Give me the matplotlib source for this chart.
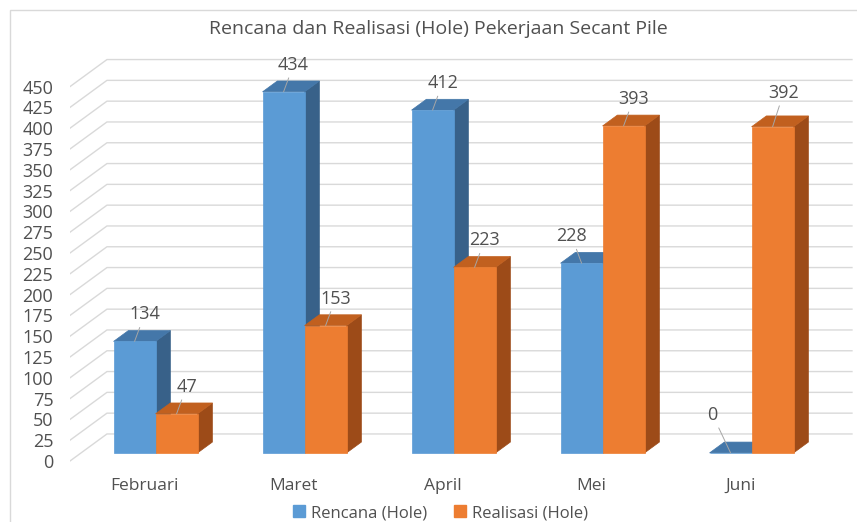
import matplotlib.pyplot as plt
from matplotlib.patches import Polygon, Rectangle
from matplotlib.lines import Line2D

plt.rcParams['font.family'] = ['Open Sans', 'DejaVu Sans']

# data
months = ['Februari', 'Maret', 'April', 'Mei', 'Juni']
rencana = [134, 434, 412, 228, 0]
realisasi = [47, 153, 223, 393, 392]
series_names = ['Rencana (Hole)', 'Realisasi (Hole)']
y_ticks = list(range(0, 451, 25))
title = 'Rencana dan Realisasi (Hole) Pekerjaan Secant Pile'

# styling for the fake 3d columns: (front, top, side)
shades = [('#5B9BD5', '#4477A9', '#386189'),
          ('#ED7D31', '#C1601F', '#9D4B18')]
text_col = '#505050'
grid_col = '#D9D9D9'

# depth of the back wall in data units, bar front/back depth as fraction
DX, DY = 0.248, 32.5
D0, D1 = 0.3, 0.7
BAR_W = 0.282

W, H = 857, 522
fig = plt.figure(figsize=(W / 100, H / 100), dpi=100)
fig.patch.set_facecolor('white')

# axes laid out in pixels: front axis starts x=70, value 0 at y=461
px_cat, px_val = 149.0, 0.832
ax = fig.add_axes([70 / W, (H - 470) / H, 787 / W, 430 / H])
ax.set_xlim(-0.5, -0.5 + 787 / px_cat)
ax.set_ylim((461 - 470) / px_val, (461 - 40) / px_val)
for s in ax.spines.values():
    s.set_visible(False)
ax.patch.set_alpha(0)

ax.set_yticks(y_ticks)
ax.set_yticklabels([str(v) for v in y_ticks], fontsize=13, color=text_col)
ax.set_xticks(range(len(months)))
ax.set_xticklabels(months, fontsize=12.5, color=text_col)
ax.tick_params(axis='y', length=0, pad=12)
ax.tick_params(axis='x', length=0, pad=6)

# gridlines on the back wall plus the little diagonal to the front
x_back_end = len(months) - 0.5 + DX
for v in y_ticks:
    ax.plot([-0.5, -0.5 + DX, x_back_end], [v, v + DY, v + DY],
            color=grid_col, lw=1, zorder=0)

# label offsets (pixels) from the front-top centre of each column
label_off = {(0, 3): (-10, 27), (0, 4): (-18, 38), (1, 4): (11, 34)}

z = 2
for i in range(len(months)):
    for s, vals in enumerate([rencana, realisasi]):
        v = vals[i]
        front, top, side = shades[s]
        x0 = i - BAR_W + s * BAR_W
        xr = x0 + BAR_W
        ax.add_patch(Polygon([(xr + D0 * DX, D0 * DY), (xr + D1 * DX, D1 * DY),
                              (xr + D1 * DX, v + D1 * DY), (xr + D0 * DX, v + D0 * DY)],
                             closed=True, facecolor=side, edgecolor=side, lw=0.5, zorder=z))
        ax.add_patch(Polygon([(x0 + D0 * DX, v + D0 * DY), (xr + D0 * DX, v + D0 * DY),
                              (xr + D1 * DX, v + D1 * DY), (x0 + D1 * DX, v + D1 * DY)],
                             closed=True, facecolor=top, edgecolor=top, lw=0.5, zorder=z))
        ax.bar(x0 + D0 * DX, v, width=BAR_W, bottom=D0 * DY, align='edge',
               color=front, edgecolor=front, lw=0.5, zorder=z + 0.5)
        z += 1
        off = label_off.get((s, i), (10, 27))
        ax.annotate(str(v), xy=(x0 + BAR_W / 2 + D0 * DX, v + D0 * DY),
                    xytext=off, textcoords='offset pixels',
                    ha='center', va='center', fontsize=13, color=text_col,
                    arrowprops=dict(arrowstyle='-', color='#A6A6A6', lw=0.7,
                                    shrinkA=1, shrinkB=0),
                    zorder=50)

fig.text(438 / W, 1 - 29 / H, title, ha='center', va='center',
         fontsize=14, color=text_col)

handles = [Line2D([], [], marker='s', ls='', color=shades[k][0], markersize=8)
           for k in range(2)]
fig.legend(handles, series_names, loc='center', ncol=2, frameon=False,
           bbox_to_anchor=(440 / W, 1 - 513 / H), fontsize=12, labelcolor=text_col,
           handletextpad=0.3, columnspacing=1.6, handlelength=0.8)

# light chart-area border (runs off the right/bottom edge)
fig.patches.append(Rectangle((10 / W, -0.1), 1.0, 1.1 - 10 / H, transform=fig.transFigure,
                             fill=False, edgecolor=grid_col, lw=1))

fig.savefig('out.png', dpi=100)
